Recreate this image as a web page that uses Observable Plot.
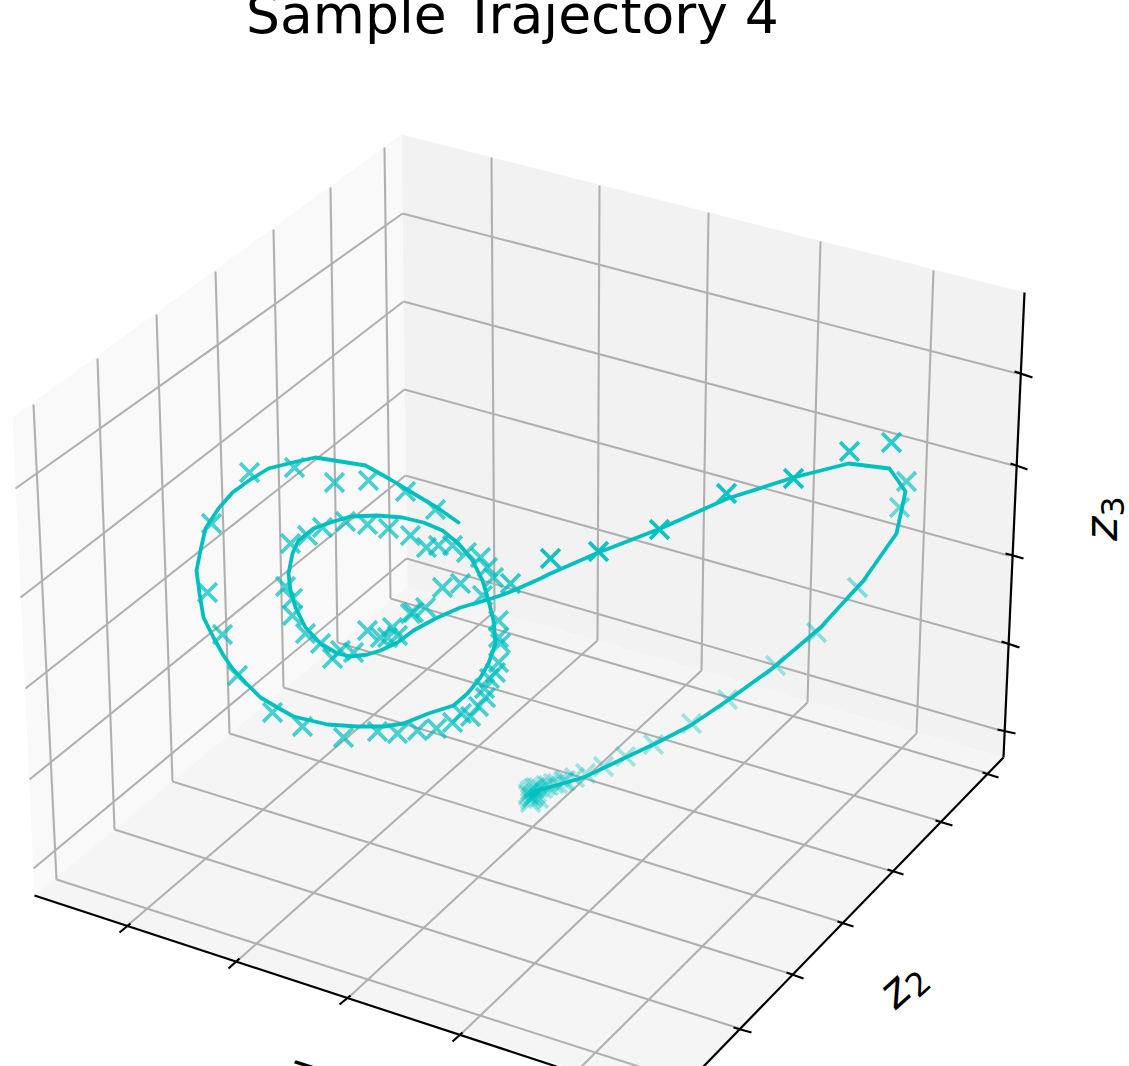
<!DOCTYPE html>
<html><head><meta charset="utf-8">
<script src="https://cdn.jsdelivr.net/npm/d3@7"></script>
<script src="https://cdn.jsdelivr.net/npm/@observablehq/plot@0.6"></script>
<style>html,body{margin:0;padding:0;background:#fff;overflow:hidden}svg{display:block}</style>
</head><body><div id="chart"></div>
<script>
const W = 1129, H = 1066;
const lineX = [458,438,413,390,365,340,315,292,268,250,232,218,205,200,196,199,203,213,223,232,245,260,277,293,327,357,383,403,428,453,467,480,488,495,493,488,482,472,458,442,423,402,377,350,330,313,298,292,288,290,295,305,320,337,350,367,380,397,413,435,460,488,500,513,540,550,598,660,727,793,848,889,905,896,863,820,773,730,690,657,623,583,555,537,530];
const lineY = [522,508,493,479,465,461,457,462,468,479,492,508,528,550,570,593,617,637,655,668,682,697,707,716,724,726,726,723,713,705,693,677,663,643,620,600,580,560,543,530,522,517,515,516,522,528,540,553,573,590,607,627,643,653,656,654,650,642,630,618,607,599,595,590,578,573,552,528,498,477,463,468,491,533,580,627,667,698,725,742,758,777,785,790,795];
const markerX = [435,405,368,334,294,249,211,207,222,237,272,302,343,377,397,417,436,452,461,470,478,485,484,489,495,498,500,498,498,510,482,493,487,480,466,452,438,426,410,388,367,345,322,307,290,285,292,292,305,320,332,340,353,367,380,387,397,392,410,413,425,442,460,550,598,659,726,793,849,891,906,899,857,816,775,727,691,653,625,603,585,574,563,553,545,538,533,530,528,532,528,530,535,538,542,548,557,565,532,534,530,536];
const markerY = [509,491,480,482,467,472,523,592,634,675,712,726,737,731,733,730,728,722,713,716,706,697,688,678,672,662,643,637,620,583,595,577,567,557,552,545,545,547,535,528,524,521,527,535,543,586,598,615,633,643,658,650,652,630,637,637,635,627,613,612,607,587,583,558,551,529,493,478,451,442,481,507,587,632,665,699,723,744,756,766,773,777,781,783,785,787,788,790,793,797,795,802,787,798,788,785,783,780,796,794,799,792];
const markerAlpha = [.7,.7,.7,.7,.7,.7,.72,.72,.7,.7,.7,.7,.7,.7,.7,.7,.7,.7,.7,.7,.7,.7,.7,.7,.7,.7,.7,.7,.7,.8,.7,.7,.7,.7,.7,.7,.7,.7,.7,.7,.7,.7,.7,.7,.7,.7,.7,.7,.7,.7,.7,.7,.7,.7,.7,.7,.7,.7,.7,.7,.7,.72,.72,.95,.95,.95,.92,.95,.85,.8,.65,.55,.45,.4,.35,.35,.35,.35,.35,.35,.35,.35,.35,.35,.35,.35,.35,.35,.35,.35,.35,.35,.35,.35,.35,.35,.35,.35,.35,.35,.35,.35];

const paneLeftX = [401,12,34,407], paneLeftY = [134,417,895,586];
const paneRightX = [401,1024,1003,407], paneRightY = [134,292,757,586];
const paneFloorX = [34,407,1003,673], paneFloorY = [895,586,757,1101];

// grid segments: start and end
const gridX1 = [491,599,708,820,933, 384,330,273,215,156,97,33, 494,597,701,807,916, 390,337,283,229,172,114,56, 402,403,404,405,406, 402,403,404,405,406];
const gridY1 = [157,185,212,241,270, 147,187,229,271,314,358,404, 611,640,670,702,733, 598,642,687,733,781,829,879, 213,301,389,475,558, 213,301,389,475,558];
const gridX2 = [494,597,701,807,916, 390,337,283,229,172,114,56, 127,236,347,460,575, 988,941,892,842,792,739,685, 1017,1013,1008,1004,1000, 15,20,25,29,33];
const gridY2 = [611,640,670,702,733, 598,642,687,733,781,829,879, 925,961,998,1034,1072, 773,821,871,922,974,1028,1081, 373,465,555,643,730, 488,597,688,779,868];

const axisX1 = [1024,1003,1003,34], axisY1 = [292,757,757,895];
const axisX2 = [1003,1003,703,556], axisY2 = [757,757,1066,1066];

const tickX1 = [1014,1010,1005,1001,997, 982,935,887,837,786,733, 130,239,350,462];
const tickY1 = [371,463,553,641,729, 772,820,869,921,972,1027, 923,958,995,1032];
const tickX2 = [1032,1027,1023,1019,1015, 998,952,903,853,803,751, 119,228,339,452];
const tickY2 = [377,469,558,647,733, 777,825,874,926,978,1032, 932,968,1004,1041];

const labelText = ["Sample Trajectory 4","z2","z3","z1"];
const labelX = [512,902,1102,308];
const labelY = [15,984,518,1075];
const labelAngle = [0,-42,-90,18];
const labelSize = [53.5,46,46,46];

const zipPts = (xs,ys)=>xs.map((x,i)=>({x,y:ys[i]}));
const segs = (a,b,c,d)=>a.map((x1,i)=>({x1,y1:b[i],x2:c[i],y2:d[i]}));
const markers = markerX.map((x,i)=>({x,y:markerY[i],a:markerAlpha[i]}));
const labels = labelText.map((t,i)=>({t,x:labelX[i],y:labelY[i],r:labelAngle[i],s:labelSize[i]}));

const plot = Plot.plot({
  width:W,height:H,margin:0,
  x:{domain:[0,W],range:[0,W],axis:null},
  y:{domain:[0,H],range:[0,H],axis:null},
  opacity:{type:"identity"},
  style:{background:"#fff"},
  marks:[
    Plot.line(zipPts(paneLeftX,paneLeftY),{x:"x",y:"y",fill:"#f9f9f9",stroke:"none"}),
    Plot.line(zipPts(paneRightX,paneRightY),{x:"x",y:"y",fill:"#f2f2f2",stroke:"none"}),
    Plot.line(zipPts(paneFloorX,paneFloorY),{x:"x",y:"y",fill:"#f5f5f5",stroke:"none"}),
    Plot.link(segs(gridX1,gridY1,gridX2,gridY2),{x1:"x1",y1:"y1",x2:"x2",y2:"y2",stroke:"#b0b0b0",strokeWidth:2.1}),
    Plot.link(segs(axisX1,axisY1,axisX2,axisY2),{x1:"x1",y1:"y1",x2:"x2",y2:"y2",stroke:"#000",strokeWidth:2.2}),
    Plot.link(segs(tickX1,tickY1,tickX2,tickY2),{x1:"x1",y1:"y1",x2:"x2",y2:"y2",stroke:"#000",strokeWidth:2.2}),
    Plot.dot(markers,{x:"x",y:"y",symbol:"times",r:8.6,stroke:"#00bfbf",strokeWidth:3.7,strokeOpacity:"a"}),
    Plot.line(zipPts(lineX,lineY),{x:"x",y:"y",stroke:"#00bfbf",strokeWidth:3.8,curve:"linear",strokeLinejoin:"round"}),
    Plot.text(labels,{x:"x",y:"y",text:"t",rotate:"r",fontSize:"s",fill:"#000",fontFamily:"DejaVu Sans",lineAnchor:"middle"})
  ]
});
plot.querySelectorAll("text").forEach(t=>{
  const s=t.textContent;
  if(/^z\d$/.test(s)){
    t.textContent="";
    const a=document.createElementNS("http://www.w3.org/2000/svg","tspan");
    a.setAttribute("font-style","italic");a.textContent="z";
    const b=document.createElementNS("http://www.w3.org/2000/svg","tspan");
    b.setAttribute("dy","0.2em");b.setAttribute("font-size","70%");b.textContent=s[1];
    t.append(a,b);
  }
});
document.getElementById("chart").append(plot);
</script></body></html>
